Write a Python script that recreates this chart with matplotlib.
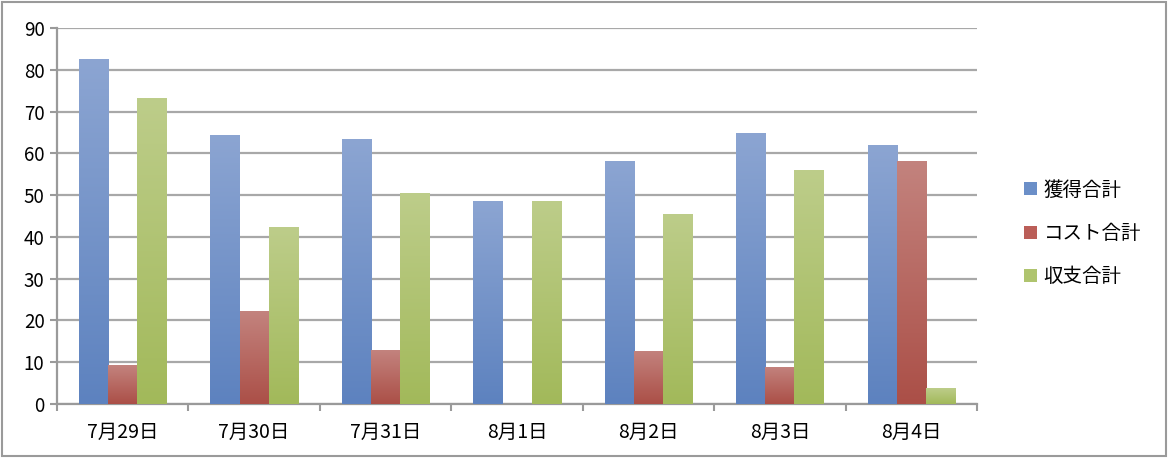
import matplotlib
matplotlib.use("Agg")
import matplotlib.pyplot as plt
import numpy as np
from matplotlib.colors import LinearSegmentedColormap
from matplotlib.patches import Rectangle

plt.rcParams['font.family'] = ['Noto Sans CJK JP', 'DejaVu Sans']

categories = ["7月29日", "7月30日", "7月31日", "8月1日", "8月2日", "8月3日", "8月4日"]
series_names = ["獲得合計", "コスト合計", "収支合計"]
acquired = [82.5, 64.5, 63.4, 48.6, 58.2, 64.9, 62.0]
cost = [9.3, 22.2, 12.9, 0.0, 12.7, 8.9, 58.2]
balance = [73.2, 42.3, 50.5, 48.6, 45.5, 56.0, 3.8]
yticks = [0, 10, 20, 30, 40, 50, 60, 70, 80, 90]

series_values = [acquired, cost, balance]
grad_colors = [("#8CA5D2", "#5D82BF"), ("#C3837E", "#AB4F47"), ("#BDCD8A", "#A2B95A")]
legend_colors = ["#6B8FC8", "#BB5E58", "#AFC46E"]

fig = plt.figure(figsize=(11.68, 4.58), dpi=100)
ax = fig.add_axes([0.0488, 0.1179, 0.7877, 0.8210])

x = np.arange(len(categories))
w = 0.222
grad = np.linspace(0, 1, 256).reshape(-1, 1)
for i, (vals, (ctop, cbot)) in enumerate(zip(series_values, grad_colors)):
    cmap = LinearSegmentedColormap.from_list(f"g{i}", [cbot, ctop])
    bars = ax.bar(x + (i - 1) * w, vals, width=w, color=legend_colors[i],
                  edgecolor="none", zorder=3, label=series_names[i])
    for b in bars:
        bx, by = b.get_x(), b.get_y()
        bw, bh = b.get_width(), b.get_height()
        if bh <= 0:
            continue
        im = ax.imshow(grad, extent=[bx, bx + bw, by, by + bh], origin="lower",
                       aspect="auto", cmap=cmap, zorder=3.5, interpolation="bilinear")
        im.set_clip_path(b)

ax.set_xlim(-0.5, len(categories) - 0.5)
ax.set_ylim(0, 90)
ax.set_yticks(yticks)
ax.set_xticks(x)
ax.set_xticklabels(categories)
ax.set_xticks(np.arange(-0.5, len(categories)), minor=True)
ax.tick_params(axis="x", which="major", length=0, pad=13, labelsize=14)
ax.tick_params(axis="x", which="minor", length=5, width=1.5, color="#9A9A9A", direction="out")
ax.tick_params(axis="y", which="major", length=5, width=1.5, color="#9A9A9A", labelsize=13.5, pad=4)
ax.grid(axis="y", color="#A8A8A8", linewidth=1.6, zorder=0)
ax.set_axisbelow(True)
for s in ["top", "right"]:
    ax.spines[s].set_visible(False)
for s in ["left", "bottom"]:
    ax.spines[s].set_color("#9A9A9A")
    ax.spines[s].set_linewidth(1.6)

handles, labels = ax.get_legend_handles_labels()
leg = fig.legend(handles, labels, loc="center left", bbox_to_anchor=(0.862, 0.49),
                 frameon=False, fontsize=14, handlelength=0.65, handleheight=0.65,
                 handletextpad=0.35, labelspacing=1.15)

fig.patches.append(Rectangle((0.002, 0.004), 0.996, 0.992, transform=fig.transFigure,
                             fill=False, edgecolor="#9A9A9A", linewidth=1.5))

fig.savefig("out.png", dpi=100)
